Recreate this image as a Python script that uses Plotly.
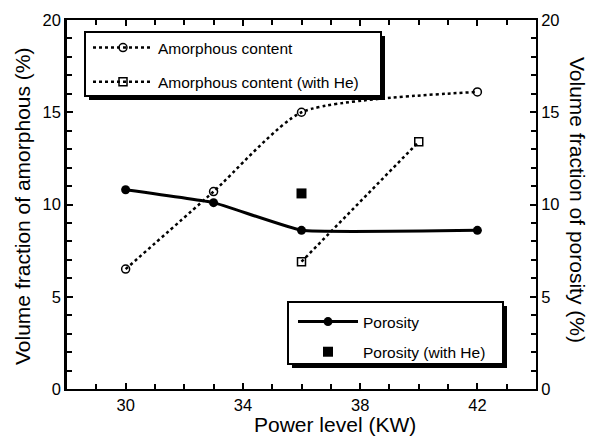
import plotly.graph_objects as go

power_amorph = [30, 33, 36, 42]
amorph = [6.5, 10.7, 15.0, 16.1]
power_amorph_he = [36, 40]
amorph_he = [6.9, 13.4]
power_por = [30, 33, 36, 42]
porosity = [10.8, 10.1, 8.6, 8.6]
power_por_he = [36]
porosity_he = [10.6]

FONT = "Liberation Sans, Arial, Helvetica, sans-serif"
W, H = 592, 438
L, R, T, B = 67, 56, 20, 49
PW, PH = W - L - R, H - T - B


def px(x):
    return (x - L) / PW


def py(y):
    return (H - B - y) / PH


fig = go.Figure()
fig.add_trace(go.Scatter(
    x=power_amorph, y=amorph, name="Amorphous content", mode="lines+markers",
    line=dict(color="black", width=2.5, dash="3px,3px", shape="spline", smoothing=0.6),
    marker=dict(symbol="circle-open", size=8, color="black", line=dict(width=1.5)),
    legend="legend", legendgroup="a"))
fig.add_trace(go.Scatter(
    x=power_amorph_he, y=amorph_he, name="Amorphous content (with He)", mode="lines+markers",
    line=dict(color="black", width=2.5, dash="3px,3px"),
    marker=dict(symbol="square-open", size=8, color="black", line=dict(width=1.5)),
    legend="legend", legendgroup="b"))
fig.add_trace(go.Scatter(
    x=power_por, y=porosity, name="Porosity", mode="lines+markers", yaxis="y2",
    line=dict(color="black", width=3, shape="spline", smoothing=0.3),
    marker=dict(symbol="circle", size=9, color="black"),
    legend="legend2", legendgroup="c"))
fig.add_trace(go.Scatter(
    x=power_por_he, y=porosity_he, name="Porosity (with He)", mode="markers", yaxis="y2",
    marker=dict(symbol="square", size=10, color="black"),
    legend="legend2", legendgroup="d"))

axis_common = dict(showline=True, linecolor="black", ticks="inside",
                   tickcolor="black", tickwidth=2, ticklen=6, showgrid=False, zeroline=False,
                   automargin=False,
                   tickfont=dict(size=16.5, color="black", family=FONT))
minor = dict(dtick=1, ticks="inside", ticklen=5, tickcolor="black", tickwidth=2)

shapes = []
for (x0, y0, x1, y1) in [(85, 32, 381, 96), (288, 302, 503, 364)]:
    shapes.append(dict(type="rect", xref="paper", yref="paper", layer="above",
                       x0=px(x0 + 4), x1=px(x1 + 4), y0=py(y0 + 4), y1=py(y1 + 4),
                       fillcolor="black", line=dict(width=0)))
    shapes.append(dict(type="rect", xref="paper", yref="paper", layer="above",
                       x0=px(x0), x1=px(x1), y0=py(y0), y1=py(y1),
                       fillcolor="white", line=dict(color="black", width=2)))

fig.update_layout(
    width=W, height=H,
    margin=dict(l=L, r=R, t=T, b=B),
    paper_bgcolor="white", plot_bgcolor="white",
    font=dict(family=FONT, color="black"),
    showlegend=True,
    xaxis=dict(range=[28, 44], tick0=30, dtick=4, mirror="ticks", minor=minor, linewidth=2,
               **axis_common),
    yaxis=dict(range=[0, 20], dtick=5, minor=minor, linewidth=2.5, **axis_common),
    yaxis2=dict(range=[0, 20], dtick=5, overlaying="y", side="right", minor=minor, linewidth=1.8,
                **axis_common),
    legend=dict(x=px(88), y=py(31), xanchor="left", yanchor="top", bgcolor="rgba(0,0,0,0)",
                borderwidth=0, font=dict(size=15.5, color="black", family=FONT),
                itemwidth=60, tracegroupgap=11),
    legend2=dict(x=px(293), y=py(305), xanchor="left", yanchor="top", bgcolor="rgba(0,0,0,0)",
                 borderwidth=0, font=dict(size=15.5, color="black", family=FONT),
                 itemwidth=60, tracegroupgap=7),
    shapes=shapes,
    annotations=[
        dict(text="Power level (KW)", xref="paper", yref="paper", x=px(335), y=py(424),
             showarrow=False, font=dict(size=21, color="black"), xanchor="center", yanchor="middle"),
        dict(text="Volume fraction of amorphous (%)", textangle=-90, xref="paper", yref="paper",
             x=px(22), y=py(207), showarrow=False, font=dict(size=21, color="black"),
             xanchor="center", yanchor="middle"),
        dict(text="Volume fraction of porosity (%)", textangle=90, xref="paper", yref="paper",
             x=px(578), y=py(200), showarrow=False, font=dict(size=21, color="black"),
             xanchor="center", yanchor="middle"),
    ],
)

fig.write_html("out.html", config={"displayModeBar": False},
               post_script="document.body.style.margin='0';document.body.style.overflow='hidden';")
